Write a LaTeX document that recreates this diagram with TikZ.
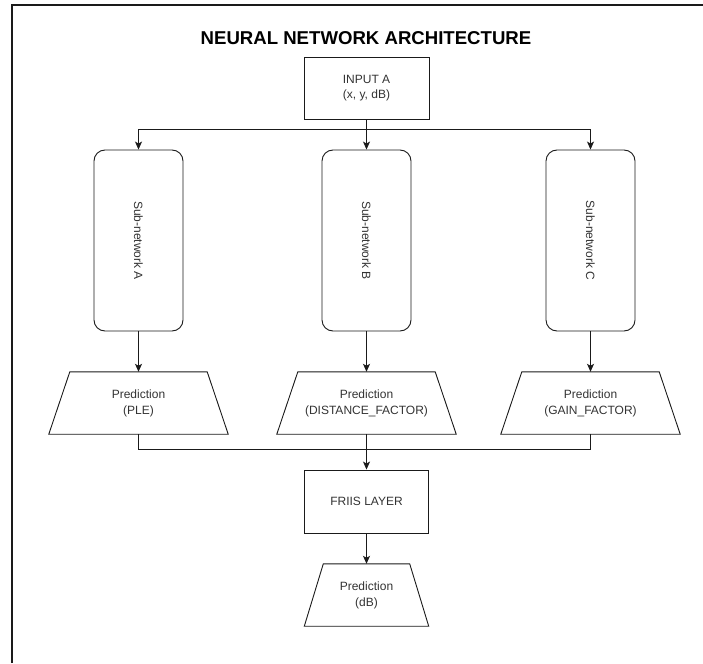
\documentclass[tikz,border=0pt]{standalone}
\usepackage{fontspec}
\setmainfont{Liberation Sans}
\usetikzlibrary{arrows.meta,calc}

\definecolor{ink}{HTML}{1A1A1A}
\definecolor{txt}{HTML}{333333}

\tikzset{
  box/.style={draw=ink, line width=0.9pt, fill=white, text=txt, align=center,
    font=\fontsize{12}{15}\selectfont},
  subnet/.style={box, rounded corners=11pt, minimum width=89pt, minimum height=181pt},
  inbox/.style={box, minimum width=125pt, minimum height=62pt},
  predbox/.style={align=center, text=txt, inner sep=0pt,
    font=\fontsize{12}{16}\selectfont, minimum width=179pt, minimum height=62pt},
  outbox/.style={predbox, minimum width=124pt},
  sublabel/.style={rotate=-90, text=txt, font=\fontsize{12}{15}\selectfont},
  wire/.style={draw=ink, line width=0.9pt},
  arr/.style={wire, -{Stealth[length=8pt,width=7pt,inset=2pt]}},
}

\begin{document}
\begin{tikzpicture}[x=1pt, y=-1pt]
  \useasboundingbox (0,0) rectangle (703,663);

  % outer frame (top and left edges only)
  \draw[ink, line width=1.2pt] (12,663) -- (12,5) -- (703,5);

  % title
  \node[font=\bfseries\fontsize{18.6}{21}\selectfont, text=black] (title) at (366,38)
    {NEURAL NETWORK ARCHITECTURE};

  % input
  \node[inbox] (in) at (366.5,88) {INPUT A\\(x, y, dB)};

  % sub-networks
  \node[subnet] (subA) at (138.5,240.5) {};
  \node[subnet] (subB) at (366.5,240.5) {};
  \node[subnet] (subC) at (590.5,240.5) {};
  \node[sublabel] (labA) at (subA) {Sub-network A};
  \node[sublabel] (labB) at (subB) {Sub-network B};
  \node[sublabel] (labC) at (subC) {Sub-network C};

  % prediction heads (trapezoids drawn from the node frames)
  \node[predbox] (pA) at (138.5,403) {Prediction\\(PLE)};
  \node[predbox] (pB) at (366.5,403) {Prediction\\(DISTANCE\_FACTOR)};
  \node[predbox] (pC) at (590.5,403) {Prediction\\(GAIN\_FACTOR)};
  \foreach \n in {pA,pB,pC}{
    \draw[wire, line join=miter]
      ($(\n.north west)+(21,0)$) -- ($(\n.north east)+(-21,0)$)
      -- (\n.south east) -- (\n.south west) -- cycle;
  }

  % Friis layer and final output
  \node[inbox, minimum width=124pt, minimum height=63pt] (friis) at (366.5,501.5) {FRIIS LAYER};
  \node[outbox] (out) at (366.5,595) {Prediction\\(dB)};
  \draw[wire, line join=miter]
    ($(out.north west)+(19,0)$) -- ($(out.north east)+(-19,0)$)
    -- (out.south east) -- (out.south west) -- cycle;

  % fan-out from the input
  \coordinate (split) at (366.5,129);
  \draw[wire] (in.south) -- (split);
  \draw[arr] (split) -| (subA.north);
  \draw[arr] (split) -| (subC.north);
  \draw[arr] (in.south) -- (subB.north);

  % sub-networks to prediction heads
  \draw[arr] (subA.south) -- (pA.north);
  \draw[arr] (subB.south) -- (pB.north);
  \draw[arr] (subC.south) -- (pC.north);

  % merge into the Friis layer
  \coordinate (merge) at (366.5,449);
  \draw[wire] (pA.south) |- (merge);
  \draw[wire] (pC.south) |- (merge);
  \draw[arr] (pB.south) -- (friis.north);

  % Friis layer to output
  \draw[arr] (friis.south) -- (out.north);
\end{tikzpicture}
\end{document}
